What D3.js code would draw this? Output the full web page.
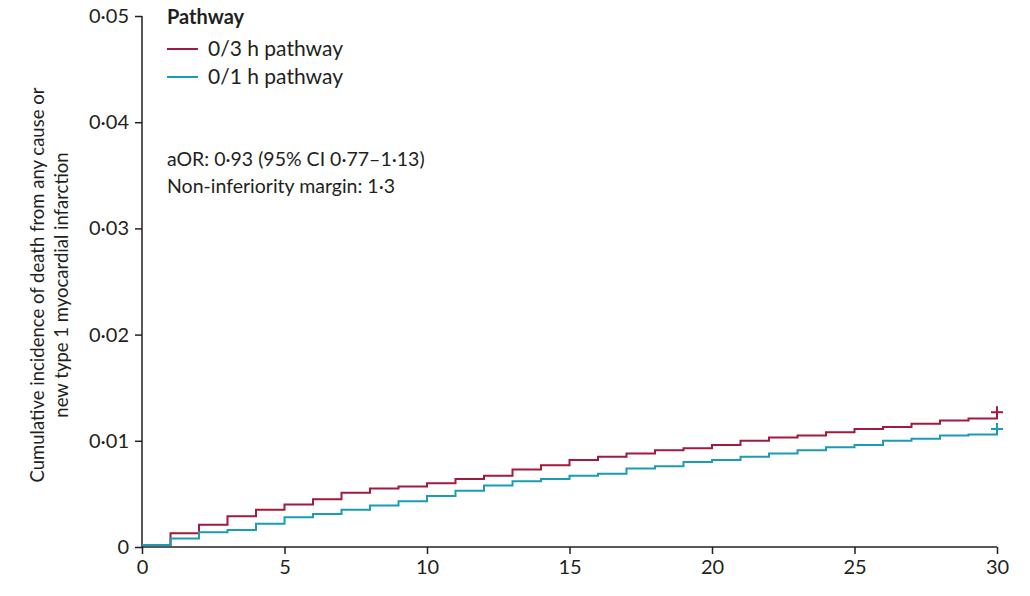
<!DOCTYPE html>
<html lang="en">
<head>
<meta charset="UTF-8">
<script src="https://d3js.org/d3.v7.min.js"></script>
<style>
  body { margin: 0; background: #fff; font-family: "Lato", "Open Sans", sans-serif; }
  text { fill: #231f20; }
</style>
</head>
<body>
<svg id="chart"></svg>
<script>
const width = 1030, height = 596;
const days = d3.range(0, 31);
const threeHour = [0.0002,0.0013,0.0021,0.0029,0.0035,0.0040,0.0045,0.0051,0.0055,0.0057,0.0060,0.0064,0.0067,0.0073,0.0077,0.0082,0.0085,0.0088,0.0091,0.0093,0.0096,0.0100,0.0103,0.0105,0.0108,0.0111,0.0113,0.0116,0.0119,0.0121,0.0123];
const oneHour = [0.0002,0.0008,0.0014,0.0016,0.0022,0.0028,0.0031,0.0035,0.0039,0.0043,0.0048,0.0053,0.0058,0.0062,0.0064,0.0067,0.0069,0.0074,0.0076,0.0080,0.0082,0.0085,0.0088,0.0091,0.0094,0.0096,0.0100,0.0102,0.0105,0.0106,0.0108];
const censorMarks = [0.0127, 0.0111];
const seriesNames = ["0/3 h pathway", "0/1 h pathway"];
const colors = ["#a3193f", "#1a9db4"];
const xTicks = [0, 5, 10, 15, 20, 25, 30];
const yTicks = [0, 0.01, 0.02, 0.03, 0.04, 0.05];

const svg = d3.select("#chart").attr("width", width).attr("height", height);
const x = d3.scaleLinear().domain([0, 30]).range([142, 997]);
const y = d3.scaleLinear().domain([0, 0.05]).range([547, 16]);
const fmt = d => d === 0 ? "0" : d3.format(".2f")(d).replace(".", "·");

const xAxis = svg.append("g").attr("transform", "translate(0,547)")
  .call(d3.axisBottom(x).tickValues(xTicks).tickSize(7).tickPadding(6));
const yAxis = svg.append("g").attr("transform", "translate(142,0)")
  .call(d3.axisLeft(y).tickValues(yTicks).tickSize(7).tickPadding(6).tickFormat(fmt));
[xAxis, yAxis].forEach(a => {
  a.selectAll("path,line").attr("stroke", "#231f20").attr("stroke-width", 1.5);
  a.selectAll("text").style("font-size", "20px").style("font-family", "Lato, sans-serif").attr("fill", "#231f20");
  a.select(".domain").attr("d", a === xAxis ? "M142,0H997" : "M0,16V547");
});

svg.append("text")
  .attr("transform", "translate(44,285) rotate(-90)")
  .attr("text-anchor", "middle").style("font-size", "18.5px")
  .selectAll("tspan").data(["Cumulative incidence of death from any cause or", "new type 1 myocardial infarction"])
  .join("tspan").attr("x", 0).attr("dy", (d, i) => i ? 24 : 0).text(d => d);

const line = d3.line().x((d, i) => x(days[i])).y(d => y(d)).curve(d3.curveStepAfter);
[threeHour, oneHour].forEach((s, k) => {
  svg.append("path").datum(s).attr("d", line).attr("fill", "none")
    .attr("stroke", colors[k]).attr("stroke-width", 2);
  const cx = x(30), cy = y(censorMarks[k]);
  svg.append("path").attr("d", `M${cx - 6},${cy}H${cx + 6}M${cx},${cy - 6}V${cy + 6}`)
    .attr("stroke", colors[k]).attr("stroke-width", 2);
});

svg.append("text").attr("x", 167).attr("y", 24).style("font-size", "20px")
  .style("font-weight", "bold").text("Pathway");
seriesNames.forEach((n, i) => {
  const yy = 56 + i * 28;
  svg.append("line").attr("x1", 167).attr("x2", 198).attr("y1", yy - 7).attr("y2", yy - 7)
    .attr("stroke", colors[i]).attr("stroke-width", 2);
  svg.append("text").attr("x", 208).attr("y", yy).style("font-size", "21px").text(n);
});
svg.append("text").attr("x", 167).attr("y", 166).style("font-size", "19.5px").text("aOR: 0·93 (95% CI 0·77–1·13)");
svg.append("text").attr("x", 167).attr("y", 193).style("font-size", "19.5px").text("Non-inferiority margin: 1·3");
</script>
</body>
</html>
